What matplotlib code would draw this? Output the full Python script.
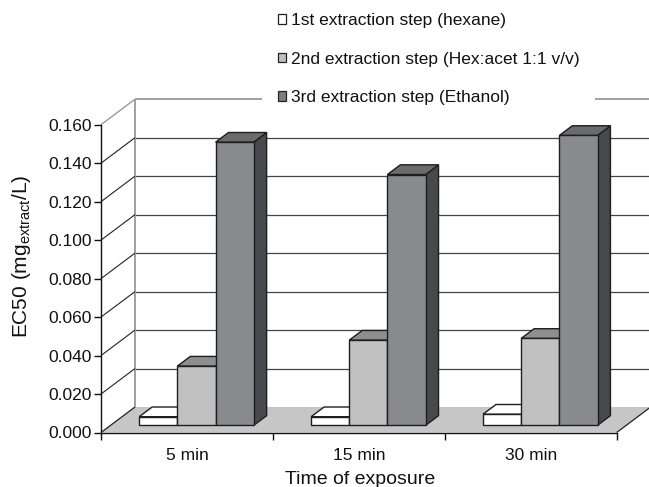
import matplotlib
matplotlib.use('Agg')
import matplotlib.pyplot as plt
from matplotlib.patches import Polygon, Patch
from matplotlib.ticker import FormatStrFormatter

plt.rcParams['font.family'] = ['Liberation Sans', 'DejaVu Sans']
plt.rcParams['mathtext.fontset'] = 'custom'
plt.rcParams['mathtext.rm'] = 'Liberation Sans'
plt.rcParams['mathtext.it'] = 'Liberation Sans:italic'

# ---------------- data ----------------
categories = ['5 min', '15 min', '30 min']
series_names = ['1st extraction step (hexane)',
                '2nd extraction step (Hex:acet 1:1 v/v)',
                '3rd extraction step (Ethanol)']
hexane = [0.0045, 0.0045, 0.0058]
hex_acet = [0.0308, 0.0443, 0.0452]
ethanol = [0.1472, 0.1304, 0.1507]
yticks = [0.000, 0.020, 0.040, 0.060, 0.080, 0.100, 0.120, 0.140, 0.160]

# ---------------- style ----------------
front_cols = ['#ffffff', '#c0c1c0', '#898a8c']
top_cols = ['#ffffff', '#8e8e8e', '#6b6b6d']
side_cols = ['#e0e0e0', '#6e6e6e', '#48494d']
edge = '#1e1e1e'

W, H = 649, 487
fig = plt.figure(figsize=(W / 100, H / 100), dpi=100)
fig.patch.set_facecolor('white')

# front frame of plot (pixels)
L, R, B, T = 101, 616.7, 432.5, 124.7
ax = fig.add_axes([L / W, 1 - B / H, (R - L) / W, (B - T) / H])
ncat = len(categories)
ymax = yticks[-1]
ax.set_xlim(0, ncat)
ax.set_ylim(0, ymax)
ax.patch.set_alpha(0)

# oblique depth offset (pixels -> data units)
DXP, DYP = 34.0, 25.5
DX = DXP / (R - L) * ncat
DY = DYP / (B - T) * ymax


def P(x, y, z):
    return (x + z * DX, y + z * DY)


def line(p, q, color, lw, z):
    ax.plot([p[0], q[0]], [p[1], q[1]], color=color, lw=lw, zorder=z,
            clip_on=False, solid_capstyle='butt')


# back wall
wall = Polygon([P(0, 0, 1), P(ncat, 0, 1), P(ncat, ymax, 1), P(0, ymax, 1)],
               closed=True, facecolor='white', edgecolor='none', zorder=0.5,
               clip_on=False)
ax.add_patch(wall)
for v in yticks[1:-1]:
    line(P(0, v, 1), P(ncat, v, 1), '#444444', 0.9, 1)
line(P(0, ymax, 1), P(ncat, ymax, 1), '#9a9a9a', 1.3, 1)
line(P(0, 0, 1), P(0, ymax, 1), '#a0a0a0', 1.4, 1)
line(P(ncat, 0, 1), P(ncat, ymax, 1), '#a0a0a0', 1.4, 1)

# side wall gridlines (diagonals)
for v in yticks[1:-1]:
    line(P(0, v, 0), P(0, v, 1), '#222222', 0.8, 1.2)
line(P(0, ymax, 0), P(0, ymax, 1), '#9a9a9a', 1.0, 1.2)

# floor
floor = Polygon([P(0, 0, 0), P(ncat, 0, 0), P(ncat, 0, 1), P(0, 0, 1)],
                closed=True, facecolor='#c6c6c6', edgecolor='none', zorder=1.5,
                clip_on=False)
ax.add_patch(floor)
line(P(0, 0, 0), P(0, 0, 1), '#222222', 0.9, 1.6)
line(P(ncat, 0, 0), P(ncat, 0, 1), '#222222', 0.9, 1.6)

# bars
bw = 0.222
z0, z1 = 0.28, 0.66
all_series = [hexane, hex_acet, ethanol]
zo = 3
for i in range(ncat):
    for j, vals in enumerate(all_series):
        v = vals[i]
        x0 = i + 0.5 - 1.5 * bw + j * bw
        x1 = x0 + bw
        side = Polygon([P(x1, 0, z0), P(x1, v, z0), P(x1, v, z1), P(x1, 0, z1)],
                       closed=True, facecolor=side_cols[j], edgecolor=edge,
                       lw=1.0, joinstyle='miter', zorder=zo, clip_on=False)
        top = Polygon([P(x0, v, z0), P(x1, v, z0), P(x1, v, z1), P(x0, v, z1)],
                      closed=True, facecolor=top_cols[j], edgecolor=edge,
                      lw=1.0, joinstyle='miter', zorder=zo + 0.1, clip_on=False)
        front = Polygon([P(x0, 0, z0), P(x1, 0, z0), P(x1, v, z0), P(x0, v, z0)],
                        closed=True, facecolor=front_cols[j], edgecolor=edge,
                        lw=1.0, joinstyle='miter', zorder=zo + 0.2, clip_on=False)
        for p in (side, top, front):
            ax.add_patch(p)
        zo += 1

# axes, ticks
for s in ('top', 'right'):
    ax.spines[s].set_visible(False)
for s in ('left', 'bottom'):
    ax.spines[s].set_color('#111111')
    ax.spines[s].set_linewidth(1.0)
    ax.spines[s].set_zorder(1.7)

ax.set_yticks(yticks)
ax.yaxis.set_major_formatter(FormatStrFormatter('%.3f'))
ax.tick_params(axis='y', direction='out', length=5, width=1.0, pad=1.5,
               labelsize=12.5, colors='#111111')
ax.set_xticks(range(ncat + 1))
ax.set_xticklabels([])
ax.tick_params(axis='x', which='major', direction='out', length=5, width=1.0,
               colors='#111111')
ax.set_xticks([i + 0.5 for i in range(ncat)], minor=True)
ax.set_xticklabels(categories, minor=True)
ax.tick_params(axis='x', which='minor', length=0, pad=11, labelsize=12.5,
               labelcolor='#111111')

fig.text(360 / W, 1 - 480 / H, 'Time of exposure', ha='center', va='center',
         fontsize=14, color='#111111')
fig.text(21.7 / W, 1 - 256 / H, r'EC50 (mg$_{\rm extract}$/L)', ha='center',
         va='center', rotation=90, fontsize=15, color='#111111')

handles = [Patch(facecolor=c, edgecolor='#222222', lw=0.9) for c in
           ['#ffffff', '#c0c1c0', '#7e7e80']]
leg = fig.legend(handles, series_names, loc='upper left',
                 bbox_to_anchor=(262 / W, 1 + 2.7 / H), frameon=True,
                 facecolor='white', edgecolor='none', framealpha=1,
                 fontsize=12.5, handlelength=0.48, handleheight=0.48,
                 handletextpad=0.3, labelspacing=1.36, borderpad=0.9,
                 borderaxespad=0, fancybox=False)
for t in leg.get_texts():
    t.set_color('#111111')

fig.savefig('out.png', dpi=100, facecolor='white')
